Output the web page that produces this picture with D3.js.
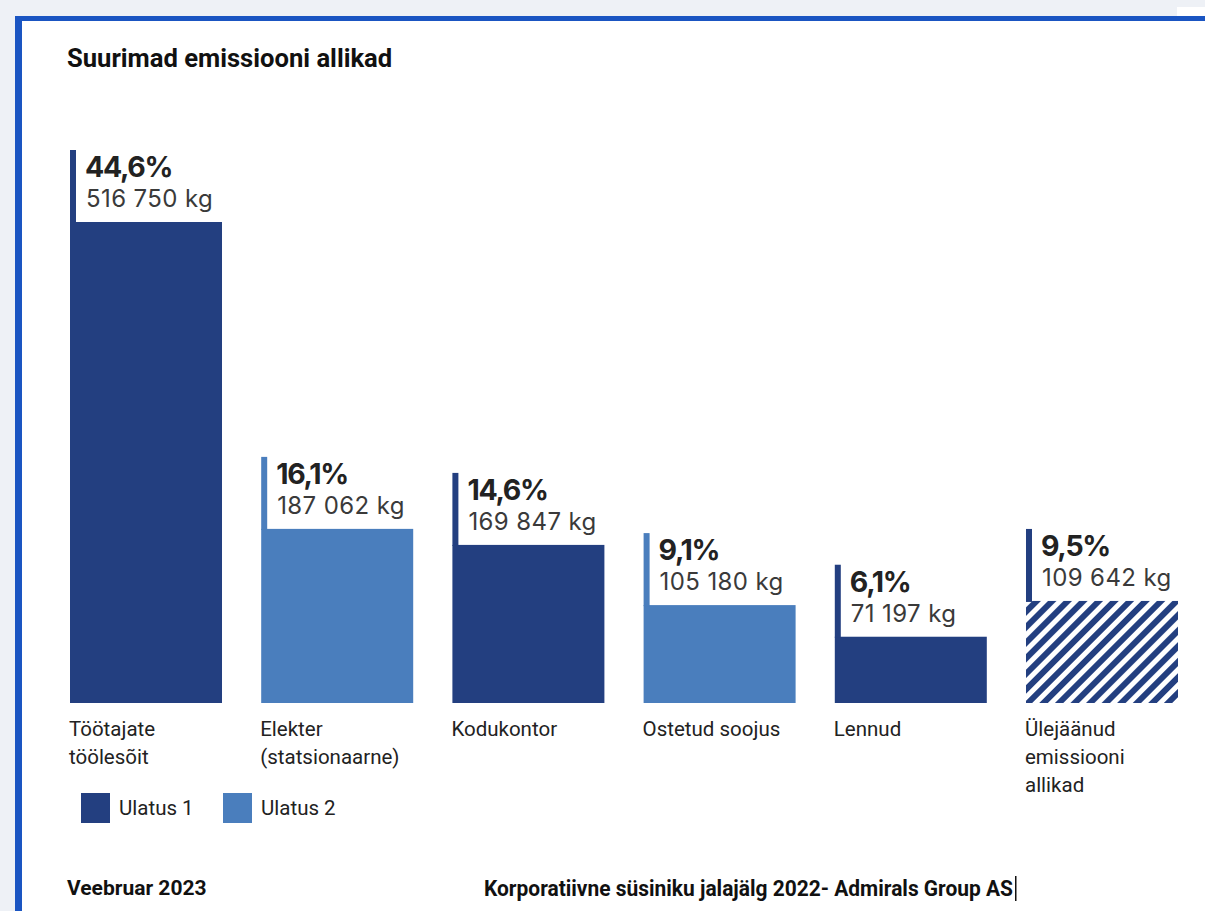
<!DOCTYPE html>
<html><head><meta charset="utf-8">
<script src="https://cdn.jsdelivr.net/npm/d3@7"></script>
<style>
html,body{margin:0;padding:0;background:#eef1f6;}
svg{display:block;}
</style></head>
<body>
<svg id="chart" width="1205" height="911"></svg>
<script>
const title = "Suurimad emissiooni allikad";
const categories = [
  ["Töötajate", "töölesõit"],
  ["Elekter", "(statsionaarne)"],
  ["Kodukontor"],
  ["Ostetud soojus"],
  ["Lennud"],
  ["Ülejäänud", "emissiooni", "allikad"]
];
const shares = [44.6, 16.1, 14.6, 9.1, 6.1, 9.5];
const kgValues = [516750, 187062, 169847, 105180, 71197, 109642];
const scopes = ["Ulatus 1", "Ulatus 2", "Ulatus 1", "Ulatus 2", "Ulatus 1", "other"];
const legendItems = ["Ulatus 1", "Ulatus 2"];
const footerLeft = "Veebruar 2023";
const footerRight = "Korporatiivne süsiniku jalajälg 2022- Admirals Group AS";

const DARK = "#233f80", LIGHT = "#4a7ebd";
const color = d3.scaleOrdinal().domain(["Ulatus 1", "Ulatus 2"]).range([DARK, LIGHT]);

const svg = d3.select("#chart");
const defs = svg.append("defs");
const pat = defs.append("pattern").attr("id", "hatch").attr("patternUnits", "userSpaceOnUse")
  .attr("width", 11).attr("height", 11).attr("patternTransform", "rotate(45)");
pat.append("rect").attr("width", 11).attr("height", 11).attr("fill", "#fff");
pat.append("rect").attr("width", 6).attr("height", 11).attr("fill", DARK);

// frame
svg.append("rect").attr("x", 1177).attr("y", 7).attr("width", 28).attr("height", 10).attr("fill", "#fff");
svg.append("rect").attr("x", 15).attr("y", 16).attr("width", 1200).attr("height", 900).attr("fill", "#1a55c2");
svg.append("rect").attr("x", 22).attr("y", 21).attr("width", 1200).attr("height", 900).attr("fill", "#fff");

svg.append("text").attr("x", 67).attr("y", 67).text(title)
  .attr("font-family", "Roboto, sans-serif").attr("font-weight", 700).attr("font-size", 25.6).attr("fill", "#111");

const x = d3.scaleBand().domain(d3.range(categories.length)).range([70, 1178]).paddingInner(0.205).paddingOuter(0);
const y = d3.scaleLinear().domain([0, d3.max(kgValues)]).range([703, 222]);

const fmtKg = d3.formatLocale({decimal: ",", thousands: " ", grouping: [3], currency: ["", ""]}).format(",d");
const fmtPct = d => d3.format(".1f")(d).replace(".", ",") + "%";

const g = svg.append("g");
const items = g.selectAll("g.item").data(kgValues).join("g").attr("class", "item");

items.append("rect")
  .attr("x", (d, i) => x(i)).attr("y", d => y(d))
  .attr("width", x.bandwidth()).attr("height", d => y(0) - y(d))
  .attr("fill", (d, i) => scopes[i] === "other" ? "url(#hatch)" : color(scopes[i]));

items.append("rect")
  .attr("x", (d, i) => x(i)).attr("y", d => y(d) - 72)
  .attr("width", 6).attr("height", 73)
  .attr("fill", (d, i) => scopes[i] === "other" ? DARK : color(scopes[i]));

items.append("text")
  .attr("x", (d, i) => x(i) + 15).attr("y", d => y(d) - 45)
  .text((d, i) => fmtPct(shares[i]))
  .attr("font-family", "Inter, sans-serif").attr("font-weight", 700).attr("font-size", 28.5)
  .attr("letter-spacing", -1.3).attr("fill", "#222");

items.append("text")
  .attr("x", (d, i) => x(i) + 16).attr("y", d => y(d) - 15)
  .text(d => fmtKg(d) + " kg")
  .attr("font-family", "Inter, sans-serif").attr("font-weight", 400).attr("font-size", 24)
  .attr("letter-spacing", 0.4).attr("fill", "#3a3a3a");

items.append("text")
  .attr("x", (d, i) => x(i) - 1).attr("y", 736)
  .attr("font-family", "Roboto, sans-serif").attr("font-size", 20.5).attr("fill", "#222")
  .selectAll("tspan").data((d, i) => categories[i]).join("tspan")
  .attr("x", function() { return this.parentNode.getAttribute("x"); })
  .attr("dy", (d, j) => j === 0 ? 0 : 28).text(d => d);

// legend
const leg = svg.append("g").selectAll("g").data(legendItems).join("g")
  .attr("transform", (d, i) => `translate(${81 + i * 142},793)`);
leg.append("rect").attr("width", 29).attr("height", 30).attr("fill", d => color(d));
leg.append("text").attr("x", 38).attr("y", 22).text(d => d)
  .attr("font-family", "Roboto, sans-serif").attr("font-size", 20.5).attr("fill", "#222");

// footer
svg.append("text").attr("x", 67).attr("y", 895).text(footerLeft)
  .attr("font-family", "Roboto, sans-serif").attr("font-weight", 700).attr("font-size", 21).attr("fill", "#111");
svg.append("text").attr("x", 484).attr("y", 896).text(footerRight)
  .attr("font-family", "Roboto, sans-serif").attr("font-weight", 700).attr("font-size", 21.5).attr("fill", "#111")
  .attr("textLength", 529).attr("lengthAdjust", "spacingAndGlyphs");
svg.append("rect").attr("x", 1015).attr("y", 876).attr("width", 1.5).attr("height", 25).attr("fill", "#111");
</script>
</body></html>
